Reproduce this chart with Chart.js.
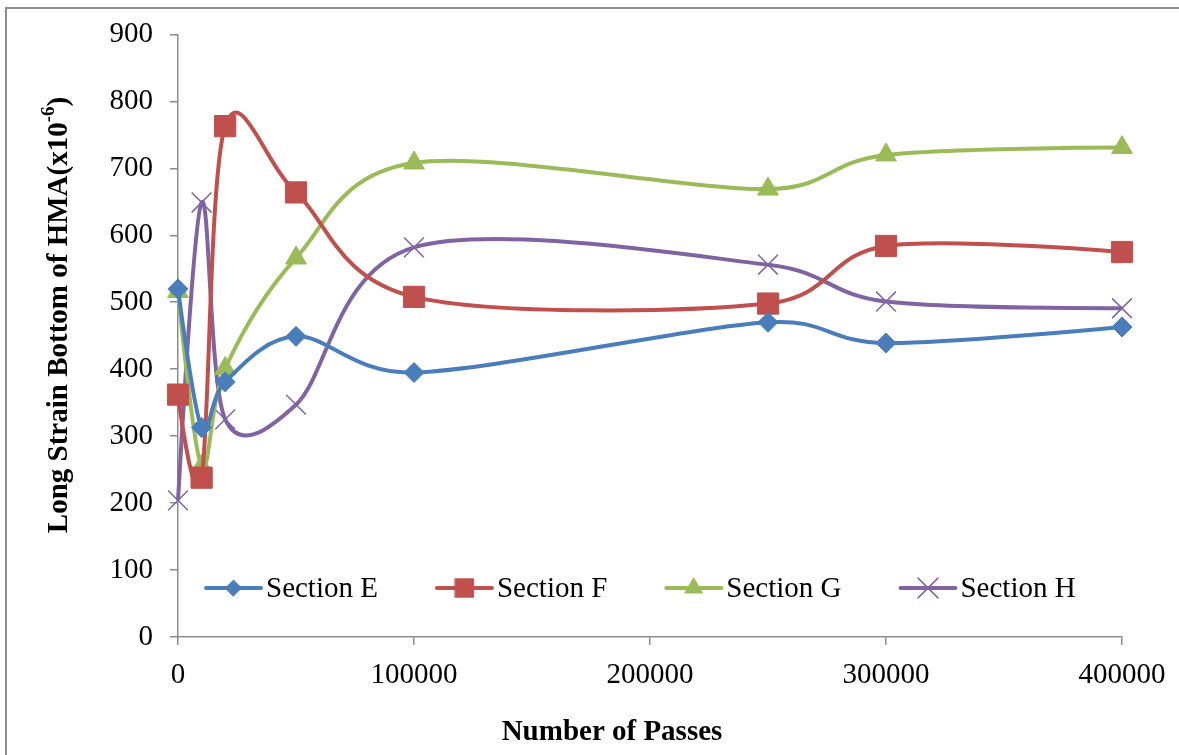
<!DOCTYPE html>
<html>
<head>
<meta charset="utf-8">
<script src="https://cdn.jsdelivr.net/npm/chart.js@4.4.1/dist/chart.umd.min.js"></script>
<style>
  html, body { margin: 0; padding: 0; background: #ffffff; }
  #wrap { position: relative; width: 1179px; height: 755px; }
  canvas { display: block; }
</style>
</head>
<body>
<div id="wrap"><canvas id="c" width="1179" height="755"></canvas></div>
<script>
// Number of passes at each measurement
const passes = [0, 10000, 20000, 50000, 100000, 250000, 300000, 400000];

// Longitudinal strain at the bottom of the HMA layer (x10^-6)
const sectionE = [520, 313, 381, 449, 395, 470, 439, 463];
const sectionF = [362, 238, 763, 664, 508, 498, 584, 575];
const sectionG = [516, 255, 401, 566, 708, 669, 720, 731];
const sectionH = [204, 649, 325, 347, 582, 556, 501, 491];

const seriesNames = ['Section E', 'Section F', 'Section G', 'Section H'];
const xTickValues = [0, 100000, 200000, 300000, 400000];
const yTickValues = [0, 100, 200, 300, 400, 500, 600, 700, 800, 900];

const xTitle = 'Number of Passes';
const yTitle = 'Long Strain Bottom of HMA(x10';
const yTitleSup = '-6';
const yTitleEnd = ')';

const SERIF = '"Liberation Serif", "Times New Roman", serif';
const FONT_SIZE = 29;

function toPoints(ys) {
  return passes.map((x, i) => ({ x: x, y: ys[i] }));
}

const styles = [
  { color: '#4A7EBB', point: 'rectRot', radius: 10, legendRadius: 8, pw: 1 },
  { color: '#C0504D', point: 'rect', radius: 15, legendRadius: 13, pw: 1 },
  { color: '#9BBB59', point: 'triangle', radius: 12, legendRadius: 10, pw: 1 },
  { color: '#8064A2', point: 'crossRot', radius: 14, legendRadius: 14, pw: 1.5 }
];

const datasets = [sectionE, sectionF, sectionG, sectionH].map((vals, i) => ({
  label: seriesNames[i],
  data: toPoints(vals),
  borderColor: styles[i].color,
  backgroundColor: styles[i].color,
  borderWidth: 4,
  tension: 0.5,
  pointStyle: styles[i].point,
  pointRadius: styles[i].radius,
  pointBorderWidth: styles[i].pw,
  pointBorderColor: styles[i].color,
  pointBackgroundColor: styles[i].color,
  clip: false
}));

// Spreadsheet-style smoothing: tangent (P[i+1]-P[i-1])/6, limited to half of each adjacent segment
const sheetSmoothing = {
  id: 'sheetSmoothing',
  beforeDatasetsDraw(chart) {
    chart.data.datasets.forEach((ds, di) => {
      const meta = chart.getDatasetMeta(di);
      meta.dataset.updateControlPoints(chart.chartArea, 'x');
      const pts = meta.data;
      const n = pts.length;
      for (let i = 0; i < n; i++) {
        const p = pts[i];
        const prev = pts[Math.max(0, i - 1)];
        const next = pts[Math.min(n - 1, i + 1)];
        let vx = (next.x - prev.x) / 6;
        let vy = (next.y - prev.y) / 6;
        if (i === 0 || i === n - 1) { vx = 0; vy = 0; }
        const len = Math.hypot(vx, vy) || 1;
        const dPrev = Math.hypot(p.x - prev.x, p.y - prev.y);
        const dNext = Math.hypot(next.x - p.x, next.y - p.y);
        const sPrev = Math.min(1, (dPrev / 2) / len);
        const sNext = Math.min(1, (dNext / 2) / len);
        p.cp1x = p.x - vx * sPrev;
        p.cp1y = p.y - vy * sPrev;
        p.cp2x = p.x + vx * sNext;
        p.cp2y = p.y + vy * sNext;
      }
    });
  }
};

// Legend drawn inside the plot area, along its lower edge
const insideLegend = {
  id: 'insideLegend',
  afterDatasetsDraw(chart) {
    const ctx = chart.ctx;
    const area = chart.chartArea;
    const cy = area.bottom - 49;
    let x = area.left + 28;
    ctx.save();
    ctx.font = FONT_SIZE + 'px ' + SERIF;
    ctx.textBaseline = 'middle';
    ctx.textAlign = 'left';
    chart.data.datasets.forEach((ds, i) => {
      ctx.strokeStyle = ds.borderColor;
      ctx.lineWidth = 4;
      ctx.lineCap = 'round';
      ctx.beginPath();
      ctx.moveTo(x, cy);
      ctx.lineTo(x + 55, cy);
      ctx.stroke();
      ctx.fillStyle = ds.backgroundColor;
      ctx.strokeStyle = ds.borderColor;
      ctx.lineWidth = ds.pointBorderWidth;
      Chart.helpers.drawPoint(ctx, {
        pointStyle: ds.pointStyle,
        radius: styles[i].legendRadius,
        rotation: 0,
        borderWidth: ds.pointBorderWidth
      }, x + 27.5, cy);
      ctx.fillStyle = '#000';
      ctx.fillText(ds.label, x + 60, cy + 1);
      x += 60 + ctx.measureText(ds.label).width + 59;
    });
    ctx.restore();
  }
};

// Axis titles and the outer frame line
const decorations = {
  id: 'decorations',
  afterDraw(chart) {
    const ctx = chart.ctx;
    ctx.save();
    ctx.strokeStyle = '#8c8c8c';
    ctx.lineWidth = 2;
    ctx.beginPath();
    ctx.moveTo(6, 760);
    ctx.lineTo(6, 8);
    ctx.lineTo(1185, 8);
    ctx.stroke();

    ctx.fillStyle = '#000';
    ctx.font = 'bold ' + FONT_SIZE + 'px ' + SERIF;
    ctx.textAlign = 'center';
    ctx.textBaseline = 'middle';
    ctx.fillText(xTitle, 612, 733);

    ctx.translate(57, 315);
    ctx.rotate(-Math.PI / 2);
    const mainFont = 'bold ' + FONT_SIZE + 'px ' + SERIF;
    const supFont = 'bold 19px ' + SERIF;
    ctx.font = mainFont;
    const w1 = ctx.measureText(yTitle).width;
    const w3 = ctx.measureText(yTitleEnd).width;
    ctx.font = supFont;
    const w2 = ctx.measureText(yTitleSup).width;
    const total = w1 + w2 + w3;
    let px = -total / 2;
    ctx.textAlign = 'left';
    ctx.textBaseline = 'alphabetic';
    ctx.font = mainFont;
    ctx.fillText(yTitle, px, 10);
    px += w1;
    ctx.font = supFont;
    ctx.fillText(yTitleSup, px, -3);
    px += w2;
    ctx.font = mainFont;
    ctx.fillText(yTitleEnd, px, 10);
    ctx.restore();
  }
};

new Chart(document.getElementById('c'), {
  type: 'line',
  data: { datasets: datasets },
  plugins: [sheetSmoothing, insideLegend, decorations],
  options: {
    responsive: false,
    animation: false,
    layout: { padding: { left: 0, right: 57, top: 31, bottom: 0 } },
    plugins: {
      legend: { display: false },
      tooltip: { enabled: false },
      title: { display: false }
    },
    scales: {
      x: {
        type: 'linear',
        min: 0,
        max: 400000,
        afterBuildTicks(scale) { scale.ticks = xTickValues.map(v => ({ value: v })); },
        afterFit(scale) { scale.height = 755 - 637; },
        ticks: {
          color: '#000',
          font: { family: SERIF, size: FONT_SIZE },
          padding: 13,
          maxRotation: 0,
          autoSkip: false,
          callback: v => String(v)
        },
        grid: { drawOnChartArea: false, drawTicks: true, tickLength: 8, color: '#8c8c8c', lineWidth: 1.5 },
        border: { color: '#8c8c8c', width: 1.5 }
      },
      y: {
        type: 'linear',
        min: 0,
        max: 900,
        afterBuildTicks(scale) { scale.ticks = yTickValues.map(v => ({ value: v })); },
        afterFit(scale) { scale.width = 178; },
        ticks: {
          color: '#000',
          font: { family: SERIF, size: FONT_SIZE },
          padding: 17,
          autoSkip: false,
          callback: v => String(v)
        },
        grid: { drawOnChartArea: false, drawTicks: true, tickLength: 8, color: '#8c8c8c', lineWidth: 1.5 },
        border: { color: '#8c8c8c', width: 1.5 }
      }
    }
  }
});
</script>
</body>
</html>
